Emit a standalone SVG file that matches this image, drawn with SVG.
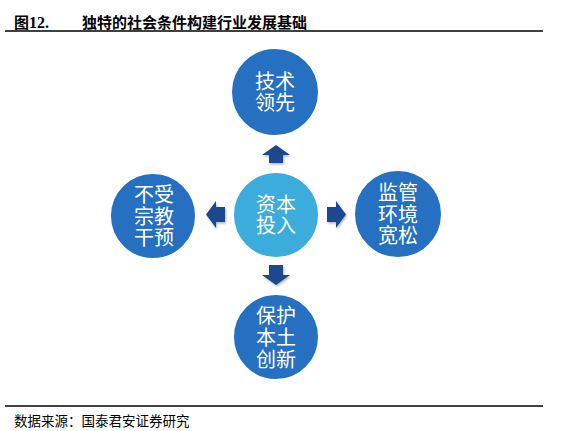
<svg xmlns="http://www.w3.org/2000/svg" width="572" height="431" viewBox="0 0 572 431">
<style>
.title{font-family:"Noto Sans CJK SC","Liberation Serif",serif;font-weight:bold;font-size:15px;fill:#000}
.num{font-family:"Liberation Serif",serif;font-weight:bold;font-size:16px;fill:#000}
.src{font-family:"Noto Sans CJK SC",sans-serif;font-size:13.5px;fill:#000}
.node{fill:#2570C0;stroke:#fff;stroke-width:2}
.core{fill:#3CACDC;stroke:#fff;stroke-width:2}
.lbl{font-family:"Noto Sans CJK SC",sans-serif;font-size:20px;fill:#fff;text-anchor:middle}
.arr{fill:#1B4A8E}
.rule{stroke:#000;stroke-width:1.3}
</style>
<defs>
<filter id="sh" x="-30%" y="-30%" width="160%" height="160%">
<feDropShadow dx="1" dy="1.5" stdDeviation="1" flood-color="#000" flood-opacity="0.3"/>
</filter>
</defs>
<rect width="572" height="431" fill="#fff"/>
<g id="title">
<text x="14" y="28" class="title">图<tspan class="num">12.</tspan></text>
<text x="82" y="28" class="title">独特的社会条件构建行业发展基础</text>
<line x1="5" y1="31" x2="543" y2="31" class="rule"/>
</g>
<g id="connectors" filter="url(#sh)">
<polygon class="arr" points="262,155 276,145 290,155 283,155 283,163 269,163 269,155"/>
<polygon class="arr" points="262,275 269,275 269,265 283,265 283,275 290,275 276,285"/>
<polygon class="arr" points="216,201 216,207 225,207 225,222 216,222 216,228 206,214.5"/>
<polygon class="arr" points="327,207 336,207 336,201 346,214.5 336,228 336,222 327,222"/>
</g>
<g id="node-top">
<circle cx="275" cy="92" r="44" class="node"/>
<text x="275" class="lbl"><tspan x="275" y="89">技术</tspan><tspan x="275" y="110">领先</tspan></text>
</g>
<g id="node-center">
<circle cx="276" cy="215" r="43" class="core"/>
<text class="lbl"><tspan x="276" y="212">资本</tspan><tspan x="276" y="233">投入</tspan></text>
</g>
<g id="node-left">
<circle cx="153" cy="216" r="43" class="node"/>
<text class="lbl"><tspan x="154" y="202">不受</tspan><tspan x="154" y="223.5">宗教</tspan><tspan x="154" y="245">干预</tspan></text>
</g>
<g id="node-right">
<circle cx="398" cy="214" r="44" class="node"/>
<text class="lbl"><tspan x="398" y="200">监管</tspan><tspan x="398" y="221.5">环境</tspan><tspan x="398" y="243">宽松</tspan></text>
</g>
<g id="node-bottom">
<circle cx="276" cy="337" r="43" class="node"/>
<text class="lbl"><tspan x="276" y="323">保护</tspan><tspan x="276" y="345">本土</tspan><tspan x="276" y="367">创新</tspan></text>
</g>
<g id="source">
<line x1="5" y1="406" x2="543" y2="406" class="rule"/>
<text x="14" y="426" class="src">数据来源：国泰君安证券研究</text>
</g>
</svg>
